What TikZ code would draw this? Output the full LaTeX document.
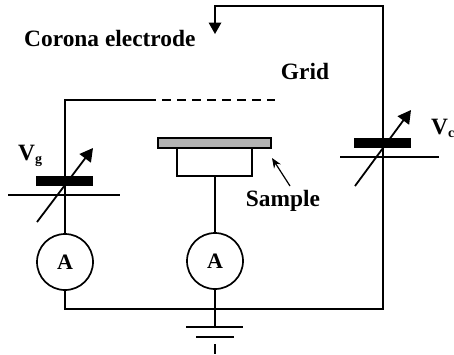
\documentclass[tikz,border=0pt]{standalone}
\usepackage{fontspec}
\setmainfont{Liberation Serif}
\usetikzlibrary{arrows.meta}
\newcommand{\subfont}{\fontsize{14}{16}\selectfont}
\tikzset{
  wire/.style={line width=2pt,line cap=butt},
  meter/.style={circle,draw,line width=1.7pt,minimum size=56pt,inner sep=0pt,font=\bfseries\fontsize{22}{24}\selectfont},
  lbl/.style={inner sep=0pt,font=\bfseries\fontsize{23.4}{26}\selectfont},
  tuner/.style={line width=1.8pt,-{Triangle[length=13pt,width=14pt]}},
  pointer/.style={line width=1.2pt,-{Stealth[length=10pt,width=8pt]}},
  plate/.style={fill=black,draw=none}
}
\begin{document}
\begin{tikzpicture}[x=1pt,y=-1pt]
\useasboundingbox (0,0) rectangle (454,354);
% meters
\node[meter] (mL) at (65,262) {A};
\node[meter] (mC) at (215,261) {A};
% junctions
\coordinate (tr) at (383,5.5);
\coordinate (tl) at (215,5.5);
\coordinate (tip) at (215,34);
\coordinate (br) at (383,308.5);
\coordinate (bl) at (65,308.5);
\coordinate (g1) at (215,327);
\coordinate (gl) at (65,100);
\coordinate (gw) at (156,100);
\coordinate (gd1) at (162,100);
\coordinate (gd2) at (275,100);
% corona wire, running through the left meter's lead
\draw[wire] (mL.south) -- (bl) -- (br) -- (tr) -- (tl) -- (215,24);
\fill (208.5,22.5) -- (221.5,22.5) -- (tip) -- cycle;
% grid
\draw[wire] (mL.north) -- (gl) -- (gw);
\draw[wire,dash pattern=on 9pt off 6pt] (gd1) -- (gd2);
% sample
\node[draw,line width=1.6pt,fill=black!30,minimum width=113pt,minimum height=10pt,inner sep=0pt] (smp) at (214.5,143) {};
\node[draw,line width=1.6pt,fill=white,minimum width=75pt,minimum height=28pt,inner sep=0pt] (hold) at (214.5,162) {};
\draw[wire] (hold.south -| mC.north) -- (mC.north);
\draw[wire] (mC.south) -- (g1);
% ground
\draw[wire] (186,327) -- (243,327);
\draw[wire] (196,337) -- (234,337);
\draw[wire] (215,344) -- (215,354);
% Vg source
\fill[plate] (36,175.5) rectangle (93,186);
\draw[wire] (8,195) -- (120,195);
\draw[tuner] (37,222) -- (93,148);
% Vc source
\fill[plate] (354,138) rectangle (411,148);
\draw[wire] (340,157) -- (439,157);
\draw[tuner] (355,186) -- (411,110);
% labels
\node[lbl,anchor=west] (corona) at (24,38) {Corona electrode};
\node[lbl] (grid) at (305,71) {Grid};
\node[lbl] (sample) at (283,201) {Sample};
\coordinate (sa) at (290,186);
\coordinate (sb) at (272,158);
\draw[pointer] (sa) -- (sb);
\node[lbl,anchor=west] (vg) at (18,156) {V\raisebox{-3pt}{\subfont g}};
\node[lbl,anchor=west] (vc) at (431,128) {V\raisebox{-3pt}{\subfont c}};
\end{tikzpicture}
\end{document}
